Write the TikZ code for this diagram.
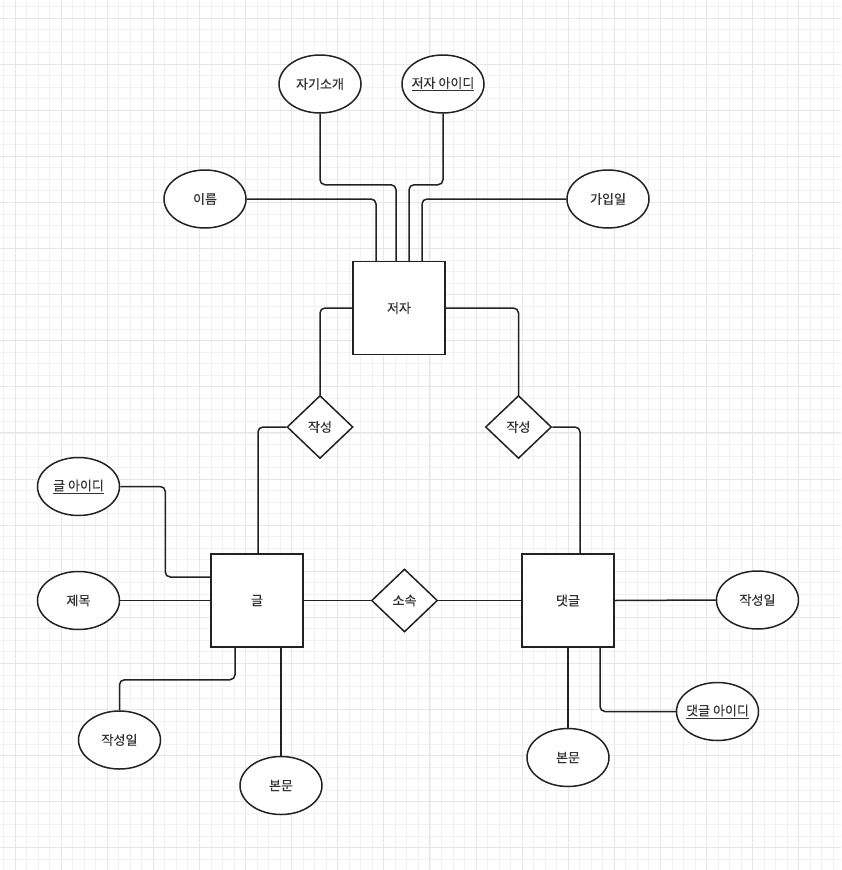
\documentclass[tikz,border=0pt]{standalone}
\usepackage{fontspec}
\setmainfont{Noto Sans CJK KR}[FakeBold=0.4]
\usetikzlibrary{shapes.geometric}
\definecolor{gridmin}{HTML}{F2F2F2}
\definecolor{gridmaj}{HTML}{E6E6E6}
\definecolor{ink}{HTML}{222222}
\definecolor{txt}{HTML}{333333}
\newcommand{\keyattr}[1]{\makebox[30pt][c]{\underline{#1}}}
\tikzset{
  lbl/.style={text=txt, font=\fontsize{13}{15}\selectfont},
  ent/.style={draw=ink, line width=1.5pt, fill=white, minimum width=92pt, minimum height=93pt, inner sep=0pt, lbl},
  attr/.style={draw=ink, line width=1.5pt, fill=white, ellipse, minimum width=82pt, minimum height=58pt, inner sep=0pt, lbl},
  rel/.style={draw=ink, line width=1.5pt, fill=white, diamond, minimum width=66pt, minimum height=63pt, inner sep=0pt, lbl},
  conn/.style={draw=ink, line width=1.5pt, rounded corners=5pt},
  gmin/.style={draw=gridmin, line width=0.8pt},
  gmaj/.style={draw=gridmaj, line width=1pt}
}
\begin{document}
\begin{tikzpicture}[x=1pt,y=-1pt]
\useasboundingbox (0,0) rectangle (841,870);
\fill[white] (0,0) rectangle (841,870);
% grid
\foreach \i in {-1,...,72} {
  \pgfmathsetmacro\xx{15+11.525*\i}
  \draw[gmin] (\xx,0) -- (\xx,870);
}
\foreach \i in {-1,...,74} {
  \pgfmathsetmacro\yy{18+11.525*\i}
  \draw[gmin] (0,\yy) -- (841,\yy);
}
\foreach \i in {0,...,18} {
  \pgfmathsetmacro\xx{15+46.1*\i}
  \draw[gmaj] (\xx,0) -- (\xx,870);
}
\foreach \i in {0,...,18} {
  \pgfmathsetmacro\yy{18+46.1*\i}
  \draw[gmaj] (0,\yy) -- (841,\yy);
}
% entities
\node[ent] (jeoja) at (399,308) {저자};
\node[ent] (geul) at (257,600.5) {글};
\node[ent] (dat) at (568,600.5) {댓글};
% relationships
\node[rel] (w1) at (320,427) {작성};
\node[rel] (w2) at (518.5,427) {작성};
\node[rel] (so) at (404.5,600.5) {소속};
% attributes of 저자
\node[attr] (intro) at (320,84) {자기소개};
\node[attr] (jid) at (443,84) {\keyattr{저자 아이디}};
\node[attr] (ireum) at (205,199) {이름};
\node[attr] (join) at (608,199) {가입일};
% attributes of 글
\node[attr] (gid) at (78.5,486.5) {\keyattr{글 아이디}};
\node[attr] (jemok) at (78.5,600.5) {제목};
\node[attr] (date1) at (119.5,740) {작성일};
\node[attr] (bon1) at (281,785.5) {본문};
% attributes of 댓글
\node[attr] (date2) at (757.5,600) {작성일};
\node[attr] (did) at (717.5,711.5) {\keyattr{댓글 아이디}};
\node[attr] (bon2) at (568,757.5) {본문};
% connectors: 저자
\draw[conn] (ireum.east) -| ([xshift=-23pt]jeoja.north);
\draw[conn] (intro.south) |- ([xshift=-3pt,yshift=76pt]jeoja.north) -- ([xshift=-3pt]jeoja.north);
\draw[conn] (jid.south) |- ([xshift=10pt,yshift=76pt]jeoja.north) -- ([xshift=10pt]jeoja.north);
\draw[conn] (join.west) -| ([xshift=23pt]jeoja.north);
\draw[conn] (jeoja.west) -| (w1.north);
\draw[conn] (jeoja.east) -| (w2.north);
\draw[conn] (w1.west) -| ([xshift=1pt]geul.north);
\draw[conn] (w2.east) -| ([xshift=12pt]dat.north);
\draw[conn] (geul.east) -- (so.west);
\draw[conn] (so.east) -- (dat.west);
% connectors: 글
\draw[conn] (gid.east) -| ([xshift=-45pt,yshift=23.5pt]geul.west) -- ([yshift=23.5pt]geul.west);
\draw[conn] (jemok.east) -- (geul.west);
\draw[conn] (date1.north) |- ([xshift=-22pt,yshift=-32pt]geul.south) -- ([xshift=-22pt]geul.south);
\draw[conn] (bon1.north |- geul.south) -- (bon1.north);
% connectors: 댓글
\draw[conn] (dat.east) -- (date2.west);
\draw[conn] (dat.south) -- (bon2.north);
\draw[conn] ([xshift=32pt]dat.south) |- (did.west);
\end{tikzpicture}
\end{document}
